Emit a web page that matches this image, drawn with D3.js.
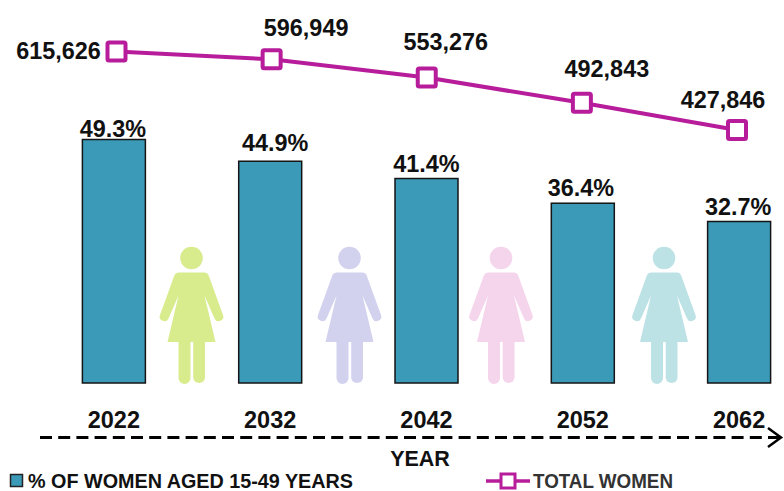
<!DOCTYPE html>
<html>
<head>
<meta charset="utf-8">
<script src="https://cdn.jsdelivr.net/npm/d3@7"></script>
<style>
  html, body { margin: 0; padding: 0; background: #fff; }
  svg { display: block; }
  text { font-family: "Liberation Sans", Arial, sans-serif; font-weight: bold; fill: #111; }
</style>
</head>
<body>
<div id="chart"></div>
<script>
var years = ["2022", "2032", "2042", "2052", "2062"];
var percentWomen = [49.3, 44.9, 41.4, 36.4, 32.7];
var totalWomen = [615626, 596949, 553276, 492843, 427846];
var figureColors = ["#d8ec8e", "#d2d2ef", "#f5d5ec", "#bde2e6"];

var width = 784, height = 491;
var teal = "#3a9ab7", magenta = "#b71c9b";

var svg = d3.select("#chart").append("svg")
  .attr("width", width)
  .attr("height", height);

// bars
var xBar = d3.scaleBand().domain(years).range([35.5, 817.5]).paddingInner(0.597).paddingOuter(0.3);
var yBar = d3.scaleLinear().domain([0, 49.3]).range([383, 139.5]);

svg.selectAll("rect.bar")
  .data(percentWomen)
  .enter()
  .append("rect")
  .attr("class", "bar")
  .attr("x", function (d, i) { return xBar(years[i]); })
  .attr("y", function (d) { return yBar(d); })
  .attr("width", xBar.bandwidth())
  .attr("height", function (d) { return yBar(0) - yBar(d); })
  .attr("fill", teal)
  .attr("stroke", "#151515")
  .attr("stroke-width", 1.5);

var pctDx = [-1, 5, 0, -2, -1];
var pctDy = [-3, -10, -7, -7, -6];
svg.selectAll("text.pct")
  .data(percentWomen)
  .enter()
  .append("text")
  .attr("class", "pct")
  .attr("x", function (d, i) { return xBar(years[i]) + xBar.bandwidth() / 2 + pctDx[i]; })
  .attr("y", function (d, i) { return yBar(d) + pctDy[i]; })
  .attr("text-anchor", "middle")
  .attr("font-size", 23.4)
  .text(function (d) { return d.toFixed(1) + "%"; });

// year labels under the bars
svg.selectAll("text.year")
  .data(years)
  .enter()
  .append("text")
  .attr("class", "year")
  .attr("x", function (d) { return xBar(d) + xBar.bandwidth() / 2; })
  .attr("y", 428)
  .attr("text-anchor", "middle")
  .attr("font-size", 23.5)
  .text(function (d) { return d; });

// women figures sit on the baseline between the bars
var womanBody = "M-13,-110.5 L13.5,-110.5 Q16,-110.5 17,-108 L31.5,-68 A4.6,4.6 0 0 1 23,-64.5 L13,-87.5 L24,-41 L13.5,-41 L13.5,-5 A6,6 0 0 1 1.7,-5 L1.7,-41 L-1,-41 L-1,-5 A6,6 0 0 1 -13,-5 L-13,-41 L-24,-41 L-13,-87.5 L-23,-64.5 A4.6,4.6 0 0 1 -31.5,-68 L-17,-108 Q-16,-110.5 -13,-110.5 Z";
var figureX = [191.5, 349.5, 501, 664];

var figures = svg.selectAll("g.woman")
  .data(figureColors)
  .enter()
  .append("g")
  .attr("class", "woman")
  .attr("transform", function (d, i) { return "translate(" + figureX[i] + "," + yBar(0) + ")"; })
  .attr("fill", function (d) { return d; });

figures.append("circle").attr("cy", -125).attr("r", 11.3);
figures.append("path").attr("d", womanBody);

// total women line
var xLine = d3.scalePoint().domain(years).range([116.5, 737]);
var yLine = d3.scaleLinear().domain([427846, 615626]).range([130, 51.5]);

var line = d3.line()
  .x(function (d, i) { return xLine(years[i]); })
  .y(function (d) { return yLine(d); });

svg.append("path")
  .datum(totalWomen)
  .attr("d", line)
  .attr("fill", "none")
  .attr("stroke", magenta)
  .attr("stroke-width", 4);

svg.selectAll("rect.marker")
  .data(totalWomen)
  .enter()
  .append("rect")
  .attr("class", "marker")
  .attr("x", function (d, i) { return xLine(years[i]) - 9; })
  .attr("y", function (d) { return yLine(d) - 9; })
  .attr("width", 18)
  .attr("height", 18)
  .attr("rx", 1.5)
  .attr("fill", "#fff")
  .attr("stroke", magenta)
  .attr("stroke-width", 4);

var totalDx = [-58, 34.5, 19, 25, -14];
var totalDy = [7.5, -23.5, -27.5, -25.5, -22.5];
svg.selectAll("text.total")
  .data(totalWomen)
  .enter()
  .append("text")
  .attr("class", "total")
  .attr("x", function (d, i) { return xLine(years[i]) + totalDx[i]; })
  .attr("y", function (d, i) { return yLine(d) + totalDy[i]; })
  .attr("text-anchor", "middle")
  .attr("font-size", 23.4)
  .text(d3.format(","));

// time arrow
svg.append("line")
  .attr("x1", 40).attr("x2", 780)
  .attr("y1", 437.5).attr("y2", 437.5)
  .attr("stroke", "#000")
  .attr("stroke-width", 3)
  .attr("stroke-dasharray", "12,6.2");

svg.append("path")
  .attr("d", "M768,428 L781,437.5 L768,447")
  .attr("fill", "none")
  .attr("stroke", "#000")
  .attr("stroke-width", 2.5);

svg.append("text")
  .attr("x", 420).attr("y", 466)
  .attr("text-anchor", "middle")
  .attr("font-size", 21.5)
  .text("YEAR");

// legend
svg.append("rect")
  .attr("x", 10.5).attr("y", 474.5)
  .attr("width", 12).attr("height", 12)
  .attr("fill", teal)
  .attr("stroke", "#222")
  .attr("stroke-width", 1.5);

svg.append("text")
  .attr("x", 28).attr("y", 487.5)
  .attr("font-size", 20)
  .attr("textLength", 325)
  .attr("lengthAdjust", "spacingAndGlyphs")
  .text("% OF WOMEN AGED 15-49 YEARS");

svg.append("line")
  .attr("x1", 486).attr("x2", 530)
  .attr("y1", 481).attr("y2", 481)
  .attr("stroke", magenta)
  .attr("stroke-width", 3.5);

svg.append("rect")
  .attr("x", 501).attr("y", 474)
  .attr("width", 14).attr("height", 14)
  .attr("fill", "#fff")
  .attr("stroke", magenta)
  .attr("stroke-width", 3);

svg.append("text")
  .attr("x", 533).attr("y", 487.5)
  .attr("font-size", 20)
  .attr("textLength", 140)
  .attr("lengthAdjust", "spacingAndGlyphs")
  .style("fill", "#333")
  .text("TOTAL WOMEN");
</script>
</body>
</html>
